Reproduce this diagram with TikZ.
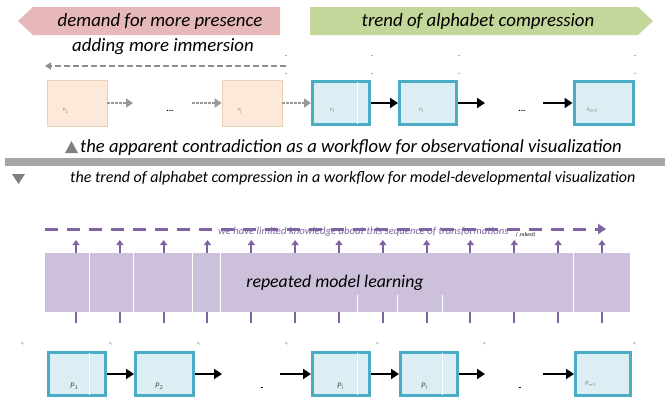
\documentclass[tikz,border=0pt]{standalone}
\usepackage{fontspec}
\setmainfont{Carlito}
\usetikzlibrary{arrows.meta}
\definecolor{bpink}{HTML}{E6B8B7}
\definecolor{bgreen}{HTML}{C4D79B}
\definecolor{boxpink}{HTML}{FDE9D9}
\definecolor{boxpinkline}{HTML}{E8D3B8}
\definecolor{boxblue}{HTML}{DAEEF3}
\definecolor{boxblueline}{HTML}{4BACC6}
\definecolor{lpurple}{HTML}{CCC0DA}
\definecolor{dpurple}{HTML}{8064A2}
\definecolor{gbar}{HTML}{A6A6A6}
\definecolor{gdark}{HTML}{808080}
\begin{document}
\begin{tikzpicture}[x=1pt,y=-1pt,
  bigtext/.style={font=\fontsize{18.8}{22}\selectfont\itshape, inner sep=0pt},
  pinkbox/.style={draw=boxpinkline, line width=0.6pt, fill=boxpink, minimum width=60pt, minimum height=46pt, inner sep=0pt},
  bluebox/.style={draw=boxblueline, line width=3pt, fill=boxblue, minimum width=57pt, minimum height=43pt, inner sep=0pt},
  plabel/.style={font=\fontsize{5}{6}\selectfont\itshape, text=gray, inner sep=0pt, anchor=south west},
  blabel/.style={font=\fontsize{8.5}{10}\selectfont\itshape, text=black!70, inner sep=0pt, anchor=south west},
  xlabel/.style={font=\fontsize{4.5}{5}\selectfont\itshape, text=gray, inner sep=0pt},
  blkarrow/.style={line width=2.6pt, -{Triangle[length=8pt,width=10pt]}},
  dotarrow/.style={line width=2.6pt, gdark!80, dash pattern=on 2.5pt off 1.5pt, -{Triangle[length=7pt,width=9pt]}},
  upar/.style={line width=2pt, dpurple, -{Triangle[length=5pt,width=7pt]}},
  dots/.style={font=\fontsize{9}{10}\selectfont\bfseries, inner sep=0pt},
  tick/.style={gray!60, line width=0.5pt},
  white line/.style={white, line width=1pt}
]
\useasboundingbox (0,0) rectangle (665,400);

% banners
\fill[bpink] (18,21) -- (33,7) -- (280,7) -- (280,35) -- (33,35) -- cycle;
\node[bigtext] (demand) at (160,21) {demand for more presence};
\fill[bgreen] (310,7) -- (638,7) -- (653,21) -- (638,35) -- (310,35) -- cycle;
\node[bigtext] (trend) at (478,21) {trend of alphabet compression};
\node[bigtext] (adding) at (163,47) {adding more immersion};

% dashed gray arrow to left
\coordinate (dA) at (286,66);
\coordinate (dB) at (45,66);
\draw[gdark!90, line width=1.6pt, dash pattern=on 6pt off 3pt, -{Triangle[length=6pt,width=7pt]}] (dA) -- (dB);

% tiny marks
\foreach \x in {286,372,459,635}{
  \draw[tick] (\x-1,55) -- (\x+1,55);
  \draw[tick] (\x-1,73) -- (\x+1,73);
}

% row 1
\node[pinkbox] (a1) at (77,103) {};
\node[pinkbox] (a2) at (252,103) {};
\node[bluebox] (b1) at (341,103) {};
\node[bluebox] (b2) at (428,103) {};
\node[bluebox, minimum width=59pt] (b3) at (603.5,103) {};
\draw[white line] (357,82) -- (357,124);

\node[plabel] at ([xshift=16pt,yshift=13pt]a1.south west) {P\textsubscript{1}};
\node[plabel] at ([xshift=16pt,yshift=13pt]a2.south west) {P\textsubscript{i}};
\node[plabel] at ([xshift=19pt,yshift=13pt]b1.south west) {P\textsubscript{i}};
\node[plabel] at ([xshift=21pt,yshift=13pt]b2.south west) {P\textsubscript{i}};
\node[plabel] at ([xshift=14pt,yshift=13pt]b3.south west) {P\textsubscript{n+1}};

\coordinate (d1e) at (133,103);
\coordinate (d2s) at (192,103);
\draw[dotarrow] (a1.east) -- (d1e);
\node[dots] (dots1) at (170,111) {...};
\draw[dotarrow] (d2s) -- (a2.west);
\draw[dotarrow] (a2.east) -- (b1.west);
\draw[blkarrow] (b1.east) -- (b2.west);
\coordinate (e1) at (485,103);
\coordinate (e2) at (543,103);
\draw[blkarrow] (b2.east) -- (e1);
\node[dots] (dots2) at (522,111) {...};
\draw[blkarrow] (e2) -- (b3.west);

% middle
\fill[gdark] (65,153) -- (71.5,141) -- (78,153) -- cycle;
\node[font=\fontsize{18.6}{22}\selectfont\itshape, anchor=west, inner sep=0pt] (contra) at (80,147.5) {the apparent contradiction as a workflow for observational visualization};
\fill[gbar] (5,158) rectangle (665,166);
\fill[gdark] (12,174) -- (25,174) -- (18.5,184) -- cycle;
\node[font=\fontsize{16}{19}\selectfont\itshape, anchor=west, inner sep=0pt] (trendwf) at (70,178.5) {the trend of alphabet compression in a workflow for model-developmental visualization};

% purple section
\coordinate (pA) at (45,229);
\coordinate (pB) at (606,229);
\draw[dpurple, line width=3pt, dash pattern=on 13pt off 9pt, -{Triangle[length=8pt,width=10pt]}] (pA) -- (pB);
\node[font=\fontsize{10.7}{12}\selectfont\itshape, text=dpurple, anchor=west, inner sep=0pt] (limited) at (218,232) {we have limited knowledge about this sequence of transformations};
\node[font=\fontsize{5.5}{6}\selectfont\itshape, anchor=west, inner sep=0pt] (mbest) at (516,235) {(\,.mbest)};

\node[fill=lpurple, minimum width=585pt, minimum height=59pt, inner sep=0pt] (learn) at (337.5,282.5) {};
\node[font=\fontsize{17.8}{21}\selectfont\itshape, inner sep=0pt] (learntext) at (335,283) {repeated model learning};
\foreach \x in {89,133,192,220,573,630}{\draw[white line] (\x,253) -- (\x,312);}
\foreach \x in {357,397,442}{\draw[white line] (\x,295) -- (\x,312);}

\foreach \i in {0,...,12}{
  \pgfmathsetmacro{\xx}{76+43.83*\i}
  \draw[upar] (\xx,253) -- (\xx,240);
  \draw[dpurple, line width=2pt] (\xx,312) -- (\xx,323);
}

% row 2
\node[bluebox] (c1) at (77,374) {};
\node[bluebox, minimum width=58pt] (c2) at (164.5,374) {};
\node[bluebox] (c3) at (341,374) {};
\node[bluebox] (c4) at (429,374) {};
\node[bluebox, minimum width=55pt] (c5) at (603,374) {};
\draw[white line] (89,353) -- (89,395);
\draw[white line] (357,353) -- (357,395);
\draw[white line] (442,353) -- (442,395);

\node[blabel] at ([xshift=23pt,yshift=7pt]c1.south west) {P\textsubscript{1}};
\node[blabel] at ([xshift=21pt,yshift=7pt]c2.south west) {P\textsubscript{2}};
\node[blabel] at ([xshift=26pt,yshift=7pt]c3.south west) {P\textsubscript{i}};
\node[blabel] at ([xshift=22pt,yshift=7pt]c4.south west) {P\textsubscript{i}};
\node[plabel, font=\fontsize{6.5}{7}\selectfont\itshape] at ([xshift=11pt,yshift=10pt]c5.south west) {P\textsubscript{n+1}};

\draw[blkarrow] (c1.east) -- (c2.west);
\coordinate (f1) at (222,374);
\coordinate (f2) at (280,374);
\draw[blkarrow] (c2.east) -- (f1);
\node[dots] (dash1) at (262,389) {-};
\draw[blkarrow] (f2) -- (c3.west);
\draw[blkarrow] (c3.east) -- (c4.west);
\coordinate (g1) at (485,374);
\coordinate (g2) at (543,374);
\draw[blkarrow] (c4.east) -- (g1);
\node[dots] (dash2) at (520,389) {-};
\draw[blkarrow] (g2) -- (c5.west);

\foreach \x in {23,111,199,287,378,485,635}{
  \node[xlabel] at (\x,344) {x\textsubscript{i}};
}
\end{tikzpicture}
\end{document}
